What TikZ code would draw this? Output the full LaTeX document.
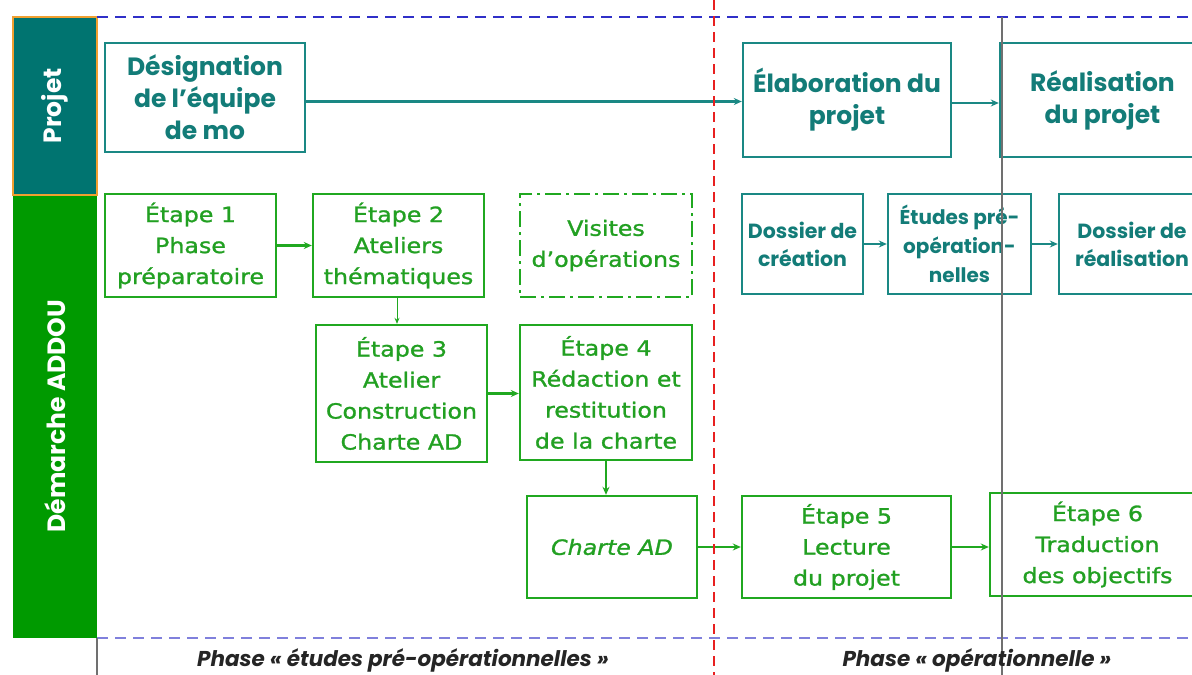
\documentclass[tikz,border=0pt]{standalone}
\usepackage{fontspec}
\setmainfont{Poppins}
\newfontfamily\tealfont{Poppins}
\newfontfamily\greenfont[FakeStretch=1.13,FakeBold=1.2]{DejaVu Sans}
\usetikzlibrary{arrows.meta}
\definecolor{tealtxt}{HTML}{137C78}
\definecolor{tealline}{HTML}{1A8884}
\definecolor{tealband}{HTML}{007470}
\definecolor{greentxt}{HTML}{22A022}
\definecolor{greenline}{HTML}{20A820}
\definecolor{greenband}{HTML}{009A00}
\definecolor{orangeb}{HTML}{F0A030}
\definecolor{topblue}{HTML}{3030C8}
\definecolor{botblue}{HTML}{8080DC}
\definecolor{redl}{HTML}{E82020}
\definecolor{greyl}{HTML}{707070}
\definecolor{phasetxt}{HTML}{252525}
\tikzset{
  tealbox/.style={draw=tealline, line width=2.4pt, fill=white, inner sep=0pt, align=center,
    text=tealtxt, font=\tealfont\fontsize{25}{32}\selectfont\bfseries},
  tealsmall/.style={tealbox, font=\tealfont\fontsize{20.5}{28}\selectfont\bfseries},
  greenbox/.style={draw=greenline, line width=2.4pt, fill=white, inner sep=0pt, align=center,
    text=greentxt, font=\greenfont\fontsize{21}{31}\selectfont},
  tealarrow/.style={draw=tealline, line width=2.6pt, -{Stealth[length=8pt,width=7pt]}},
  greenarrow/.style={draw=greenline, line width=2.6pt, -{Stealth[length=8pt,width=7pt]}},
  bandlabel/.style={text=white, rotate=90, font=\tealfont\fontsize{25}{28}\selectfont\bfseries},
  phase/.style={text=phasetxt, font=\tealfont\fontsize{21.5}{24}\selectfont\bfseries\itshape}
}
\begin{document}
\begin{tikzpicture}[x=1pt,y=-1pt]
\clip (0,0) rectangle (1192,675);
\fill[white] (0,0) rectangle (1192,675);
% bands
\fill[greenband] (13,195) rectangle (97,638);
\filldraw[fill=tealband, draw=orangeb, line width=1.6pt] (13,17) rectangle (97,195);
\node[bandlabel] (lproj) at (55,106) {Projet};
\node[bandlabel] (ldem) at (55,416) {Démarche ADDOU};
% guide lines
\draw[topblue, line width=2.8pt, dash pattern=on 11pt off 7pt] (97,17) -- (1192,17);
\draw[botblue, line width=2.4pt, dash pattern=on 11pt off 7pt] (97,638) -- (1192,638);
\draw[greyl, line width=1.2pt] (97,638) -- (97,675);
% boxes
\node[tealbox, minimum width=200pt, minimum height=109pt] (desig) at (205,97.5) {Désignation\\de l’équipe\\de mo};
\node[tealbox, minimum width=208pt, minimum height=114pt] (elab) at (847,100) {Élaboration du\\projet};
\node[tealbox, minimum width=205pt, minimum height=114pt] (real) at (1102.5,100) {Réalisation\\du projet};
\node[tealsmall, minimum width=121pt, minimum height=100pt] (dc) at (802.5,244) {Dossier de\\création};
\node[tealsmall, minimum width=143pt, minimum height=100pt, font=\tealfont\fontsize{20}{29}\selectfont\bfseries] (ep) at (959.5,244) {Études pré-\\opération-\\nelles};
\node[tealsmall, minimum width=146pt, minimum height=100pt] (dr) at (1132,244) {Dossier de\\réalisation};
\node[greenbox, minimum width=171pt, minimum height=103pt] (e1) at (190.5,245.5) {Étape 1\\Phase\\préparatoire};
\node[greenbox, minimum width=171pt, minimum height=103pt] (e2) at (398.5,245.5) {Étape 2\\Ateliers\\thématiques};
\node[greenbox, minimum width=172pt, minimum height=103pt, dash pattern=on 16pt off 5pt on 3pt off 5pt] (vis) at (606,245.5) {Visites\\d’opérations};
\node[greenbox, minimum width=171pt, minimum height=137pt] (e3) at (401.5,393.5) {Étape 3\\Atelier\\Construction\\Charte AD};
\node[greenbox, minimum width=172pt, minimum height=135pt] (e4) at (606,392.5) {Étape 4\\Rédaction et\\restitution\\de la charte};
\node[greenbox, minimum width=170pt, minimum height=102pt, font=\greenfont\fontsize{21}{30}\selectfont\itshape] (ch) at (612,547) {Charte AD};
\node[greenbox, minimum width=209pt, minimum height=102pt] (e5) at (846.5,547) {Étape 5\\Lecture\\du projet};
\node[greenbox, minimum width=215pt, minimum height=103pt] (e6) at (1097.5,544.5) {Étape 6\\Traduction\\des objectifs};
% arrows
\draw[tealarrow] ([yshift=-4pt]desig.east) -- ([yshift=-4pt]desig.east -| elab.west);
\draw[tealarrow] ([yshift=-3pt]elab.east) -- ([yshift=-3pt]elab.east -| real.west);
\draw[tealarrow] (dc.east) -- (dc.east -| ep.west);
\draw[tealarrow] (ep.east) -- (ep.east -| dr.west);
\draw[greenarrow] (e1.east) -- (e1.east -| e2.west);
\draw[greenarrow, line width=1pt, -{Stealth[length=6pt,width=5pt]}] ([xshift=-1.5pt]e2.south) -- ([xshift=-1.5pt]e2.south |- e3.north);
\draw[greenarrow] (e3.east) -- (e3.east -| e4.west);
\draw[greenarrow] (e4.south) -- (e4.south |- ch.north);
\draw[greenarrow] (ch.east) -- (ch.east -| e5.west);
\draw[greenarrow] (e5.east) -- (e5.east -| e6.west);
% vertical separators
\draw[greyl, line width=1.6pt] (1002,17) -- (1002,675);
\draw[redl, line width=2.6pt, dash pattern=on 10pt off 6pt] (714,0) -- (714,675);
% phase labels
\node[phase] (ph1) at (403,660) {Phase « études pré-opérationnelles »};
\node[phase] (ph2) at (977,660) {Phase « opérationnelle »};
\end{tikzpicture}
\end{document}
